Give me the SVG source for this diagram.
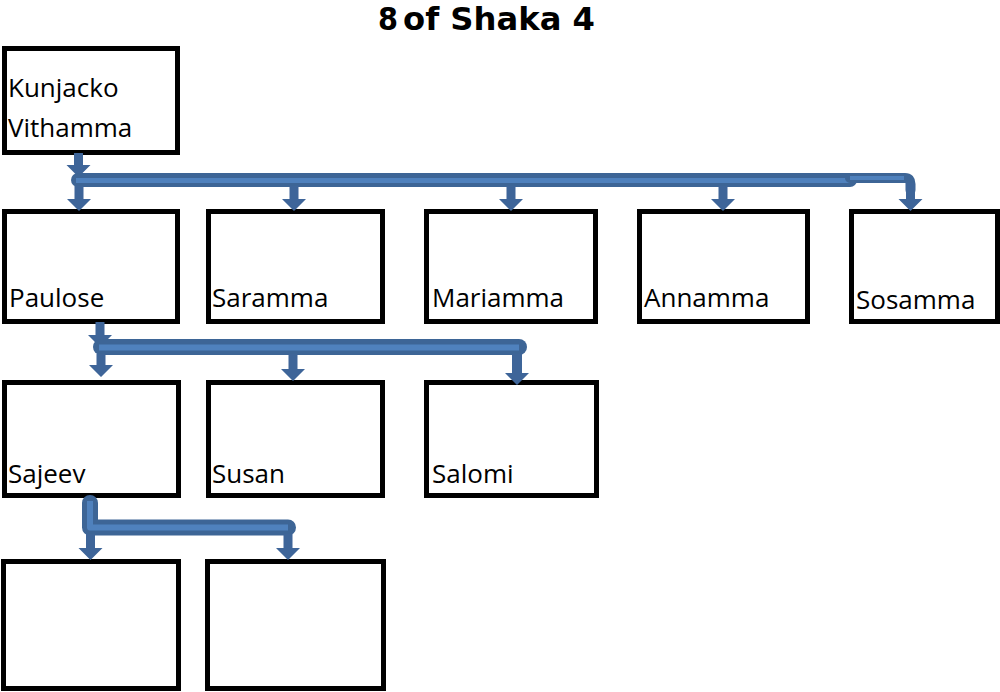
<svg xmlns="http://www.w3.org/2000/svg" width="1000" height="692" viewBox="0 0 1000 692">
<style>
.box{fill:#ffffff;stroke:#000000;stroke-width:5}
.lbl{font-family:"Open Sans","Liberation Sans",sans-serif;font-size:26px;fill:#000000}
.title{font-family:"DejaVu Sans","Liberation Sans",sans-serif;font-size:32px;font-weight:bold;fill:#000000}
.bar{fill:none;stroke:#3d6596;stroke-linecap:round;stroke-linejoin:round}
.barin{fill:none;stroke:#4f81bd;stroke-linecap:butt;stroke-linejoin:round}
.arr{fill:#3e6599;stroke:none}
</style>
<rect width="1000" height="692" fill="#ffffff"/>
<g id="title"><text class="title" y="30"><tspan x="378" textLength="20" lengthAdjust="spacingAndGlyphs">8</tspan><tspan x="403" textLength="192" lengthAdjust="spacingAndGlyphs">of Shaka 4</tspan></text></g>
<g id="kunjacko"><rect class="box" x="4.5" y="48.5" width="173" height="104"/><text class="lbl" x="8" y="97">Kunjacko</text><text class="lbl" x="8" y="137">Vithamma</text></g>
<g id="paulose"><rect class="box" x="4.5" y="211.5" width="173" height="110"/><text class="lbl" x="9" y="307">Paulose</text></g>
<g id="saramma"><rect class="box" x="208.5" y="211.5" width="174" height="110"/><text class="lbl" x="212" y="307">Saramma</text></g>
<g id="mariamma"><rect class="box" x="426.5" y="211.5" width="169" height="110"/><text class="lbl" x="432" y="307">Mariamma</text></g>
<g id="annamma"><rect class="box" x="639.5" y="211.5" width="168" height="110"/><text class="lbl" x="644" y="307">Annamma</text></g>
<g id="sosamma"><rect class="box" x="851.5" y="211.5" width="146" height="110"/><text class="lbl" x="856" y="309">Sosamma</text></g>
<g id="sajeev"><rect class="box" x="4.5" y="382.5" width="174" height="113"/><text class="lbl" x="8" y="483">Sajeev</text></g>
<g id="susan"><rect class="box" x="208.5" y="382.5" width="174" height="113"/><text class="lbl" x="212" y="483">Susan</text></g>
<g id="salomi"><rect class="box" x="426.5" y="382.5" width="170" height="113"/><text class="lbl" x="432" y="483">Salomi</text></g>
<g id="child1"><rect class="box" x="3.5" y="561.5" width="175" height="127"/></g>
<g id="child2"><rect class="box" x="207.5" y="561.5" width="176" height="127"/></g>
<g id="connectors">
<polygon class="arr" points="74,153 83,153 83,165 90.5,165 78.5,177 66.5,165 74,165"/>
<path class="bar" d="M78,180 H850" stroke-width="14"/>
<path class="barin" d="M76,180.5 H850" stroke-width="5"/>
<path class="bar" d="M850,178 H905 Q910.5,178 910.5,184 V190" stroke-width="10"/>
<path class="barin" d="M850,178 H904" stroke-width="4"/>
<polygon class="arr" points="74.5,186 83.5,186 83.5,199 91,199 79,211 67,199 74.5,199"/>
<polygon class="arr" points="289.5,186 298.5,186 298.5,199 306,199 294,211 282,199 289.5,199"/>
<polygon class="arr" points="506.5,186 515.5,186 515.5,199 523,199 511,211 499,199 506.5,199"/>
<polygon class="arr" points="718.5,186 727.5,186 727.5,199 735,199 723,211 711,199 718.5,199"/>
<polygon class="arr" points="906,183 915,183 915,199 922.5,199 910.5,211 898.5,199 906,199"/>
<polygon class="arr" points="95.5,322 104.5,322 104.5,335 112,335 100,347 88,335 95.5,335"/>
<path class="bar" d="M101,347 H519" stroke-width="16"/>
<path class="barin" d="M99,347.5 H519" stroke-width="6"/>
<polygon class="arr" points="96.5,354 105.5,354 105.5,365 113,365 101,377 89,365 96.5,365"/>
<polygon class="arr" points="288.5,354 297.5,354 297.5,369 305,369 293,381 281,369 288.5,369"/>
<polygon class="arr" points="512,354 522,354 522,373 529,373 517,385 505,373 512,373"/>
<path class="bar" d="M90,503 V527.5 H288" stroke-width="16"/>
<path class="barin" d="M90,501 V527.5 H288" stroke-width="6"/>
<polygon class="arr" points="86,534 95,534 95,548 102.5,548 90.5,560 78.5,548 86,548"/>
<polygon class="arr" points="283.5,534 292.5,534 292.5,548 300,548 288,560 276,548 283.5,548"/>
</g>
</svg>
